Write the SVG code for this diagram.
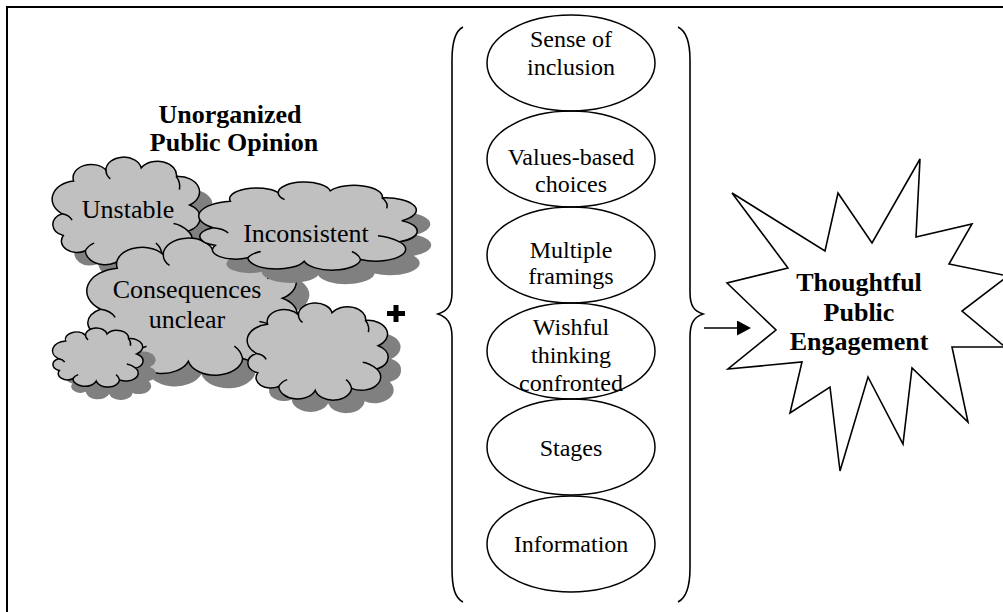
<svg xmlns="http://www.w3.org/2000/svg" xmlns:xlink="http://www.w3.org/1999/xlink" width="1003" height="612" viewBox="0 0 1003 612">
<style>
.frame{fill:none;stroke:#000;stroke-width:2}
.cloud{fill:#c0c0c0;stroke:#000;stroke-width:1.5}
.shadow{fill:#808080;stroke:none}
.ell{fill:none;stroke:#000;stroke-width:1.5}
.brace{fill:none;stroke:#000;stroke-width:1.6}
.star{fill:#fff;stroke:#000;stroke-width:1.6;stroke-linejoin:miter}
.conn{fill:none;stroke:#000;stroke-width:1.6}
.t{font-family:'Liberation Serif','Times New Roman',Times,serif;font-size:24px;text-anchor:middle;fill:#000}
.c{font-size:26px}
.b{font-size:26px;font-weight:bold}
</style>
<defs>
<g id="cloudShape">
<path vector-effect="non-scaling-stroke" d="M6 52 A16.8 16.8 0 0 1 14 22 A12.3 12.3 0 0 1 36 12 A12.1 12.1 0 0 1 60 10 A13 13 0 0 1 84 18 A14.1 14.1 0 0 1 93 44 A13.3 13.3 0 0 1 92 68 A13.7 13.7 0 0 1 74 88 A13.2 13.2 0 0 1 48 90 A13.4 13.4 0 0 1 22 86 A10.6 10.6 0 0 1 7 72 A10.9 10.9 0 0 1 6 52 Z"/>
<path vector-effect="non-scaling-stroke" fill="none" d="M6 52 Q11 53 13 58 M36 12 Q36 17 39 20 M84 18 Q87 24 86 30 M92 68 Q87 62 82 61 M74 88 Q73 82 70 79 M22 86 Q24 81 28 79"/>
</g>
<marker id="ah" markerWidth="14" markerHeight="15" refX="0" refY="7.5" orient="auto" markerUnits="userSpaceOnUse">
<path d="M0 0 L14 7.5 L0 15 Z" fill="#000"/>
</marker>
</defs>

<rect x="0" y="0" width="1003" height="612" fill="#fff"/>
<path class="frame" d="M7 612 V7 H1003"/>

<g id="title">
<text class="t b" x="230" y="123">Unorganized</text>
<text class="t b" x="234" y="151">Public Opinion</text>
</g>

<g id="cloud-unstable">
<use xlink:href="#cloudShape" class="shadow" transform="translate(66,170) scale(1.47,1.09)"/>
<use xlink:href="#cloudShape" class="cloud" transform="translate(53,157) scale(1.47,1.09)"/>
<text class="t c" x="128" y="218">Unstable</text>
</g>

<g id="cloud-consequences">
<use xlink:href="#cloudShape" class="shadow" transform="translate(101,251) scale(2.09,1.37)"/>
<use xlink:href="#cloudShape" class="cloud" transform="translate(88,238) scale(2.09,1.37)"/>
<text class="t c" x="187" y="298">Consequences</text>
<text class="t c" x="187" y="328">unclear</text>
</g>

<g id="cloud-inconsistent">
<use xlink:href="#cloudShape" class="shadow" transform="translate(214,196) scale(2.17,0.88)"/>
<use xlink:href="#cloudShape" class="cloud" transform="translate(200,182) scale(2.17,0.88)"/>
<text class="t c" x="306" y="242">Inconsistent</text>
</g>

<g id="cloud-small">
<use xlink:href="#cloudShape" class="shadow" transform="translate(66,341) scale(0.9,0.59)"/>
<use xlink:href="#cloudShape" class="cloud" transform="translate(53,328) scale(0.9,0.59)"/>
</g>

<g id="cloud-right">
<use xlink:href="#cloudShape" class="shadow" transform="translate(261,316) scale(1.4,0.97)"/>
<use xlink:href="#cloudShape" class="cloud" transform="translate(248,303) scale(1.4,0.97)"/>
</g>

<g id="plus">
<path d="M387 311 H393.5 V305 H398.5 V311 H405 V316 H398.5 V322 H393.5 V316 H387 Z" fill="#000"/>
</g>

<g id="brace-left">
<path class="brace" d="M463 27 C455 31 452 42 452 60 L452 292 C452 306 447 311 438 314 C447 317 452 323 452 337 L452 568 C452 588 455 598 463 602"/>
</g>
<g id="brace-right">
<path class="brace" d="M678 27 C686 31 690 42 690 60 L690 292 C690 306 694 311 703 314 C694 317 690 323 690 337 L690 568 C690 588 686 598 678 602"/>
</g>

<g id="e-inclusion">
<ellipse class="ell" cx="571" cy="63" rx="84" ry="48"/>
<text class="t" x="571" y="47">Sense of</text>
<text class="t" x="571" y="75">inclusion</text>
</g>
<g id="e-values">
<ellipse class="ell" cx="571" cy="159" rx="84" ry="48"/>
<text class="t" x="571" y="165">Values-based</text>
<text class="t" x="571" y="192">choices</text>
</g>
<g id="e-framings">
<ellipse class="ell" cx="571" cy="255" rx="84" ry="48"/>
<text class="t" x="571" y="258">Multiple</text>
<text class="t" x="571" y="284">framings</text>
</g>
<g id="e-wishful">
<ellipse class="ell" cx="571" cy="351" rx="84" ry="48"/>
<text class="t" x="571" y="335">Wishful</text>
<text class="t" x="571" y="363">thinking</text>
<text class="t" x="571" y="391">confronted</text>
</g>
<g id="e-stages">
<ellipse class="ell" cx="571" cy="447" rx="84" ry="48"/>
<text class="t" x="571" y="456">Stages</text>
</g>
<g id="e-information">
<ellipse class="ell" cx="571" cy="544" rx="84" ry="48"/>
<text class="t" x="571" y="552">Information</text>
</g>

<g id="connectors">
<line class="conn" x1="704" y1="328" x2="737" y2="328" marker-end="url(#ah)"/>
</g>

<g id="engagement">
<polygon class="star" points="732,193 825,251 838,193 872,243 920,159 916,237 972,224 949,264 1008,276 962,311 1005,347 952,347 968,422 912,368 903,444 868,377 840,471 830,387 790,413 802,362 728,369 776,330 727,283 788,268"/>
<text class="t b" x="859" y="291">Thoughtful</text>
<text class="t b" x="859" y="321">Public</text>
<text class="t b" x="859" y="350">Engagement</text>
</g>
</svg>
